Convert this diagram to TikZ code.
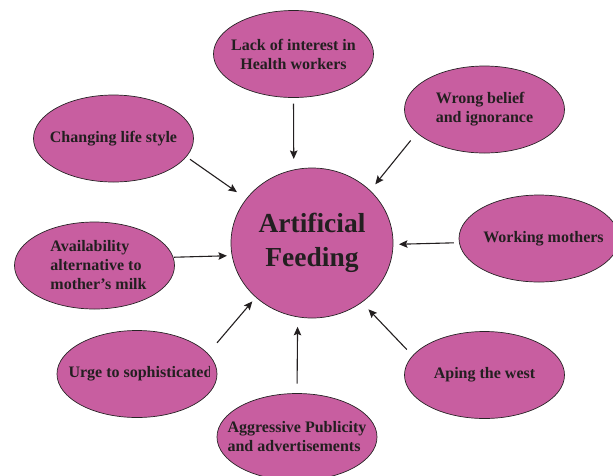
\documentclass[tikz,border=0pt]{standalone}
\usepackage{fontspec}
\setmainfont{Liberation Serif}
\usetikzlibrary{shapes.geometric,arrows.meta}
\definecolor{bub}{RGB}{200,94,160}
\definecolor{txt}{RGB}{35,31,32}
\definecolor{bordc}{RGB}{40,36,38}
\begin{document}
\begin{tikzpicture}[x=1pt,y=-1pt,
  bubble/.style={ellipse, draw=bordc, line width=0.7pt, fill=bub,
    minimum width=160pt, minimum height=87pt, inner xsep=-40pt, inner ysep=-15pt,
    outer sep=0pt, text=txt, align=center,
    font=\fontsize{16}{19}\selectfont\bfseries},
  hub/.style={ellipse, draw=bordc, line width=0.7pt, fill=bub,
    minimum width=162pt, minimum height=150pt, inner xsep=-30pt, inner ysep=-15pt,
    outer sep=0pt, text=txt, align=center,
    font=\fontsize{27.5}{34}\selectfont\bfseries},
  lbl/.style={inner sep=0pt, text=txt, font=\fontsize{16}{19}\selectfont\bfseries},
  arr/.style={-{Stealth[length=8.5pt,width=7.5pt,inset=1.5pt]}, line width=1.1pt, draw=txt}]
\useasboundingbox (0,0) rectangle (613,475);
\clip (0,0) rectangle (613,475);

\node[bubble] (lack) at (293.5,54) {Lack of interest in\\Health workers};
\node[bubble, align=left] (wrong) at (484.5,109.5) {Wrong belief\\and ignorance};
\node[bubble] (chg) at (113.5,138.5) {Changing life style};
\node[bubble] (work) at (539,238.5) {\hspace*{9pt}Working mothers};
\node[bubble, align=left] (avail) at (94.5,265.5) {\hspace*{8pt}Availability\\\hspace*{8pt}alternative to\\\hspace*{8pt}mother’s milk};
\node[bubble] (urge) at (137,374) {};
\begin{scope}
  \clip (urge.west |- urge.south) rectangle ([xshift=-7.5pt]urge.east |- urge.north);
  \node[lbl] (urgetxt) at ([xshift=3.5pt]urge.center) {Urge to sophisticated};
\end{scope}
\node[bubble] (aping) at (484.5,375) {Aping the west};
\node[bubble, align=left] (aggr) at (297,437) {Aggressive Publicity\\and advertisements};
\node[hub] (af) at (312,243) {Artificial\\Feeding};

\draw[arr, shorten <=6pt, shorten >=11pt] (lack.south) -- (af.104.6);
\draw[arr, shorten <=10pt, shorten >=8.3pt] (wrong.199.8) -- (af.42.5);
\draw[arr, shorten <=4.6pt, shorten >=11.7pt] (chg.346.4) -- (af.146);
\draw[arr, shorten <=5.5pt, shorten >=6pt] (work.183.6) -- (af.359.6);
\draw[arr, shorten <=1pt, shorten >=5.2pt] (avail.6.9) -- (af.189.25);
\draw[arr, shorten <=14.3pt, shorten >=5.6pt] (urge.16) -- (af.224.7);
\draw[arr, shorten <=10pt, shorten >=10pt] (aggr.north) -- (af.259.3);
\draw[arr, shorten <=8.6pt, shorten >=9.8pt] (aping.165.4) -- (af.310.5);
\end{tikzpicture}
\end{document}
